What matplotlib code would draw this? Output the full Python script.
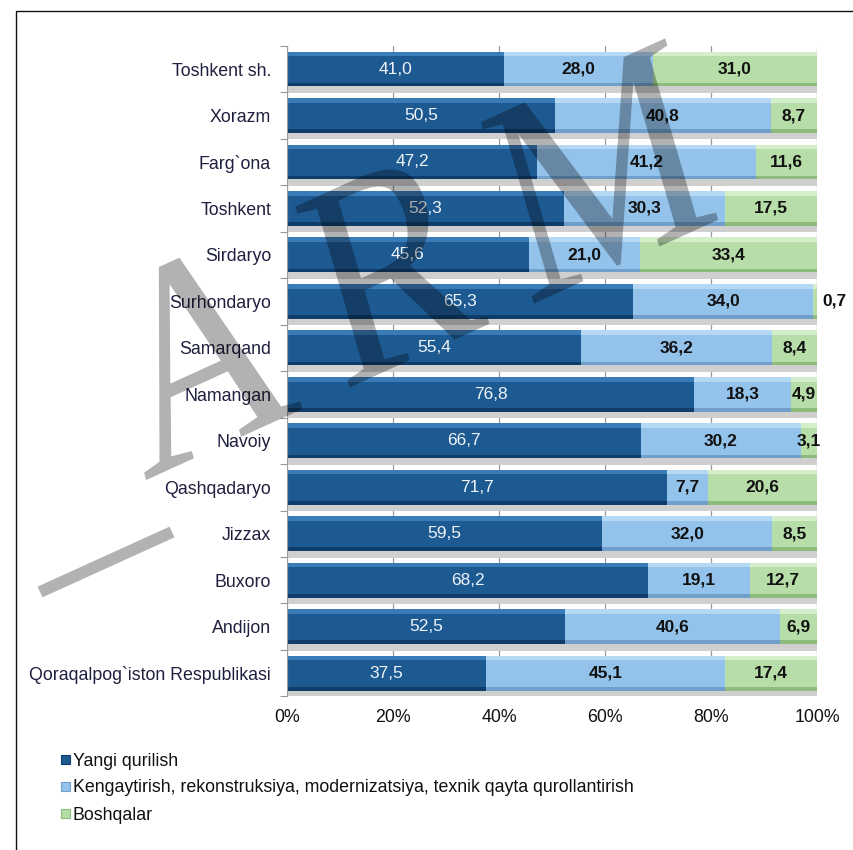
import matplotlib
matplotlib.use("Agg")
import matplotlib.pyplot as plt
import numpy as np
from matplotlib.patches import PathPatch, Rectangle
from matplotlib.textpath import TextPath
from matplotlib.font_manager import FontProperties
from matplotlib.transforms import Affine2D
from matplotlib.lines import Line2D

regions = ["Toshkent sh.", "Xorazm", "Farg`ona", "Toshkent", "Sirdaryo",
           "Surhondaryo", "Samarqand", "Namangan", "Navoiy", "Qashqadaryo",
           "Jizzax", "Buxoro", "Andijon", "Qoraqalpog`iston Respublikasi"]
yangi = [41.0, 50.5, 47.2, 52.3, 45.6, 65.3, 55.4, 76.8, 66.7, 71.7, 59.5, 68.2, 52.5, 37.5]
kengay = [28.0, 40.8, 41.2, 30.3, 21.0, 34.0, 36.2, 18.3, 30.2, 7.7, 32.0, 19.1, 40.6, 45.1]
boshqa = [31.0, 8.7, 11.6, 17.5, 33.4, 0.7, 8.4, 4.9, 3.1, 20.6, 8.5, 12.7, 6.9, 17.4]
series_names = ["Yangi qurilish",
                "Kengaytirish, rekonstruksiya, modernizatsiya, texnik qayta qurollantirish",
                "Boshqalar"]
xticks = [0, 20, 40, 60, 80, 100]
xticklabels = ["0%", "20%", "40%", "60%", "80%", "100%"]
watermark = "ARM"

FONT = ["Liberation Sans", "DejaVu Sans"]
plt.rcParams['font.family'] = FONT

colors = ["#1d5a92", "#93c3eb", "#b7dea8"]
tops = ["#3a7cb8", "#b5d8f5", "#d3eec8"]
bottoms = ["#0f3d6b", "#6f9fca", "#8dbb7c"]
label_colors = ["#eef3f8", "#111111", "#111111"]
label_weights = ["normal", "bold", "bold"]
FS = 12.75

W, H = 854, 850
fig = plt.figure(figsize=(W / 100, H / 100), dpi=100)
ax = fig.add_axes([287 / W, 1 - 696.4 / H, 530 / W, (696.4 - 45.8) / H])

n = len(regions)
y = np.arange(n)
bh = 0.75
data = [np.array(yangi), np.array(kengay), np.array(boshqa)]

# shadow below bars
ax.barh(y + bh / 2 + 0.07, [100] * n, height=0.14, left=0, color="#cfcfcf",
        edgecolor="none", zorder=1)

left = np.zeros(n)
for k, vals in enumerate(data):
    ax.barh(y, vals, height=bh, left=left, color=colors[k], edgecolor="none", zorder=2)
    ax.barh(y - bh / 2 + 0.05, vals, height=0.1, left=left, color=tops[k],
            edgecolor="none", zorder=2.1)
    ax.barh(y + bh / 2 - 0.04, vals, height=0.08, left=left, color=bottoms[k],
            edgecolor="none", zorder=2.1)
    for i, v in enumerate(vals):
        txt = f"{v:.1f}".replace(".", ",")
        if v < 1:
            ax.text(101, i, txt, ha="left", va="center", fontsize=12.5,
                    fontweight="bold", color="#111111", zorder=4, clip_on=False)
        else:
            ax.text(left[i] + v / 2, i, txt, ha="center", va="center",
                    fontsize=12.5, color=label_colors[k],
                    fontweight=label_weights[k], zorder=4)
    left = left + vals

ax.set_xlim(0, 100)
ax.set_ylim(n - 0.5, -0.5)
ax.set_xticks(xticks)
ax.set_xticklabels(xticklabels, fontsize=FS, color="#111111")
ax.tick_params(axis="x", length=0, pad=9)
ax.set_yticks(np.arange(n + 1) - 0.5)
ax.set_yticklabels([])
ax.set_yticks(y, minor=True)
ax.set_yticklabels(regions, minor=True, fontsize=FS, color="#1f1f3f")
ax.tick_params(axis="y", which="major", length=5, color="#999999", direction="out")
ax.tick_params(axis="y", which="minor", length=0, pad=11.5)
ax.xaxis.grid(True, color="#9a9a9a", linewidth=0.9, zorder=0)
ax.set_axisbelow(True)
for s in ["top", "right", "bottom"]:
    ax.spines[s].set_visible(False)
ax.spines["left"].set_color("#a0a0a0")

# legend (manual, pixel positions)
leg_y = [759, 786, 813]
for k in range(3):
    yc = H - leg_y[k]
    fig.add_artist(Rectangle((61, yc - 4.5), 9, 9, transform=Affine2D(),
                             facecolor=colors[k], edgecolor=bottoms[k], linewidth=0.8))
    fig.text(73 / W, yc / H, series_names[k], fontsize=FS, color="#111111",
             ha="left", va="center_baseline")

# figure border
fig.add_artist(Rectangle((16 / W, -0.1), 1.2, 1 - 11 / H + 0.1, transform=fig.transFigure,
                         fill=False, edgecolor="#111111", linewidth=1.0))

# watermark
em, rot, comp, track = 295, 20, 0.8, 0.17
adv = [0.0, 0.722 + track, 0.722 + 0.667 + 2 * track]
prop = FontProperties(family=["Liberation Serif", "DejaVu Serif"])
for ch, a in zip(watermark, adv):
    tp = TextPath((a, 0), ch, size=1, prop=prop)
    tr = Affine2D().scale(em).rotate_deg(rot).scale(comp, 1).translate(144, H - 481)
    fig.add_artist(PathPatch(tp, transform=tr, facecolor="black", edgecolor="none",
                             alpha=0.3, zorder=10))
fig.add_artist(Line2D([40, 172], [H - 592, H - 532], transform=Affine2D(),
                      color="black", alpha=0.3, linewidth=8.5, solid_capstyle="butt",
                      zorder=10))

fig.savefig("out.png", dpi=100)
